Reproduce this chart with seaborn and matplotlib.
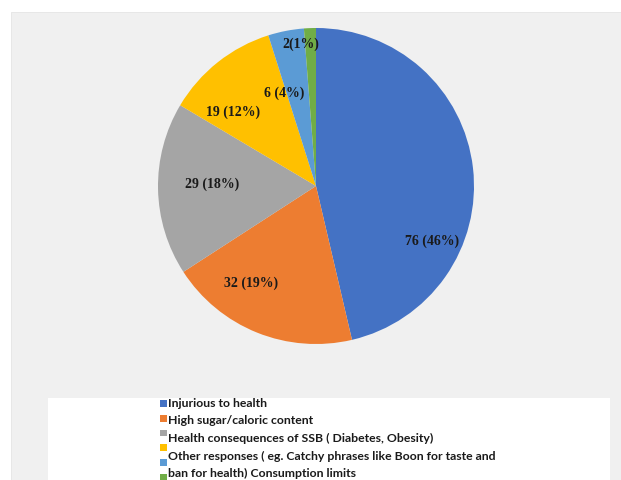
import textwrap
import numpy as np
import matplotlib
matplotlib.use("Agg")
import matplotlib.pyplot as plt
import seaborn as sns
from matplotlib.patches import Rectangle

# ---- data ----
categories = [
    "Injurious to health",
    "High sugar/caloric content",
    "Health consequences of SSB ( Diabetes, Obesity)",
    "Other responses ( eg. Catchy phrases like Boon for taste and ban for health)",
    "",
    "Consumption limits",
]
counts = [76, 32, 29, 19, 6, 2]
percents = [46, 19, 18, 12, 4, 1]
value_labels = ["76 (46%)", "32 (19%)", "29 (18%)", "19 (12%)", "6 (4%)", "2(1%)"]

colors = ["#4472C4", "#ED7D31", "#A5A5A5", "#FFC000", "#5B9BD5", "#70AD47"]

# label placement style (angle offset in degrees, radial fraction)
label_angle_offset = [-32, -12, -2, 10, 8, 4]
label_radius = [0.81, 0.74, 0.66, 0.70, 0.62, 0.90]

sns.set_theme(style="white")
W, H = 621, 480
fig = plt.figure(figsize=(W / 100, H / 100), dpi=100)
fig.patch.set_facecolor("white")

# grey chart panel
fig.patches.append(Rectangle((11 / W, 0), 1 - 11 / W, 1 - 12 / H, transform=fig.transFigure,
                             facecolor="#f0f0f0", edgecolor="#e4e4e4", lw=0.6, zorder=-2))
# white legend panel
fig.patches.append(Rectangle((48 / W, 0), (610 - 48) / W, (480 - 398) / H, transform=fig.transFigure,
                             facecolor="white", edgecolor="none", zorder=-1))

cx, cy, r = 316, 186, 158
ax = fig.add_axes([(cx - r) / W, (H - cy - r) / H, 2 * r / W, 2 * r / H])
ax.set_facecolor("none")
wedges, _ = ax.pie(counts, colors=colors, startangle=90, counterclock=False,
                   wedgeprops=dict(linewidth=0))
ax.set_xlim(-1, 1)
ax.set_ylim(-1, 1)
ax.set_aspect("equal")
ax.axis("off")

for w, lab, da, rf in zip(wedges, value_labels, label_angle_offset, label_radius):
    mid = np.deg2rad((w.theta1 + w.theta2) / 2 + da)
    ax.text(rf * np.cos(mid), rf * np.sin(mid), lab, ha="center", va="center",
            family="Liberation Serif", fontweight="bold", fontsize=10, color="#1a1a1a")

# legend markers
leg = fig.legend(wedges, [""] * len(wedges), loc="upper left",
                 bbox_to_anchor=(160 / W, 1 - 399 / H), bbox_transform=fig.transFigure,
                 frameon=False, fontsize=7, handlelength=0.7, handleheight=0.7,
                 handletextpad=0.0, labelspacing=0.48, borderpad=0, borderaxespad=0)

# legend text lines (Excel-style wrap)
legend_lines = categories[:3] + textwrap.wrap(categories[3] + " " + categories[5], 60)
fig.text(168 / W, 1 - 398 / H, "\n".join(legend_lines), ha="left", va="top",
         family="Lato", fontweight="bold", fontsize=8.8, color="#1a1a1a", linespacing=1.72)

fig.savefig("out.png", dpi=100)
